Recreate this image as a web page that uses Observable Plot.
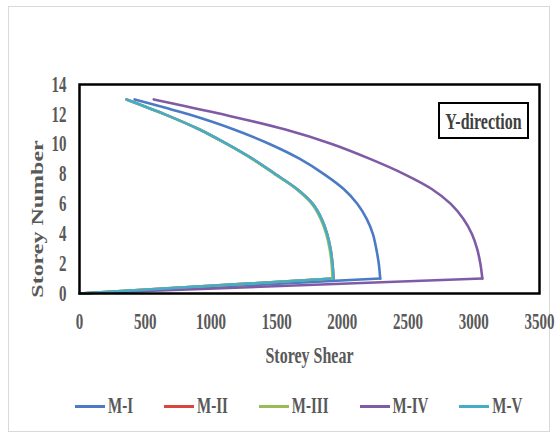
<!DOCTYPE html>
<html>
<head>
<meta charset="utf-8">
<script src="https://cdn.jsdelivr.net/npm/d3@7"></script>
<script src="https://cdn.jsdelivr.net/npm/@observablehq/plot@0.6"></script>
<style>
  html, body { margin: 0; padding: 0; background: #fff; }
  #wrap { position: relative; width: 558px; height: 440px; overflow: hidden; font-family: "Liberation Serif", "Times New Roman", serif; }
  #outer { position: absolute; left: 8px; top: 6px; width: 542px; height: 426px; border: 1px solid #d9d9d9; box-sizing: border-box; }
  #chart { position: absolute; left: 0; top: 0; }
  #dirbox { position: absolute; left: 438px; top: 102px; width: 91px; height: 37px; border: 2px solid #000; box-sizing: border-box; display: flex; align-items: center; justify-content: center; background: #fff; }
  #dirbox span { display: inline-block; font-weight: bold; font-size: 16px; color: #3f3f3f; transform: scaleY(1.5); }
  #legend { position: absolute; left: 75px; top: 396px; height: 20px; display: flex; align-items: center; gap: 31px; }
  .item { display: flex; align-items: center; gap: 3px; }
  .sw { display: inline-block; width: 30px; height: 3px; }
  .lab { display: inline-block; font-weight: bold; font-size: 15px; color: #595959; transform: scaleY(1.5); }
</style>
</head>
<body>
<div id="wrap">
  <div id="outer"></div>
  <div id="chart"></div>
  <div id="dirbox"><span>Y-direction</span></div>
  <div id="legend"></div>
</div>
<script>
// ---- data ----
const storeys = [0, 1, 2, 3, 4, 5, 6, 7, 8, 9, 10, 11, 12, 13];
const seriesNames = ["M-I", "M-II", "M-III", "M-IV", "M-V"];
const seriesColors = ["#4a7bc4", "#d9453f", "#9bbb59", "#7f5ba6", "#45aec6"];
const shearMI   = [0, 2288, 2277, 2258, 2232, 2185, 2115, 2010, 1860, 1680, 1450, 1170, 830, 420];
const shearMII  = [0, 1933, 1925, 1910, 1884, 1842, 1775, 1655, 1490, 1320, 1125, 910, 650, 358];
const shearMIII = [0, 1925, 1918, 1903, 1877, 1835, 1768, 1649, 1485, 1316, 1122, 908, 649, 358];
const shearMIV  = [0, 3065, 3050, 3025, 2985, 2920, 2825, 2680, 2470, 2215, 1925, 1560, 1090, 565];
const shearMV   = [0, 1933, 1925, 1910, 1884, 1842, 1775, 1655, 1490, 1320, 1125, 910, 650, 358];
const xTicks = [0, 500, 1000, 1500, 2000, 2500, 3000, 3500];
const yTicks = [0, 2, 4, 6, 8, 10, 12, 14];
const xTitle = "Storey Shear";
const yTitle = "Storey Number";

const shearBySeries = [shearMI, shearMII, shearMIII, shearMIV, shearMV];
const rows = [];
seriesNames.forEach((name, k) => {
  storeys.forEach((s, i) => rows.push({series: name, storey: s, shear: shearBySeries[k][i]}));
});
const baseRows = rows.filter(d => d.storey <= 1);
const upperRows = rows.filter(d => d.storey >= 1);

const plot = Plot.plot({
  width: 558,
  height: 375,
  marginLeft: 79,
  marginRight: 19,
  marginTop: 84,
  marginBottom: 82,
  style: {fontFamily: "'Liberation Serif', 'Times New Roman', serif", fontSize: "15px", fontWeight: "bold", color: "#595959", background: "transparent"},
  x: {domain: [0, 3500], ticks: xTicks, tickFormat: d => String(d), tickSize: 0, tickPadding: 20, label: null},
  y: {domain: [0, 14], ticks: yTicks, tickFormat: d => String(d), tickSize: 0, tickPadding: 13, label: null},
  color: {domain: seriesNames, range: seriesColors},
  marks: [
    Plot.line(baseRows, {x: "shear", y: "storey", z: "series", stroke: "series", strokeWidth: 2.6, curve: "linear"}),
    Plot.line(upperRows, {x: "shear", y: "storey", z: "series", stroke: "series", strokeWidth: 2.6, curve: "catmull-rom"}),
    Plot.frame({stroke: "#000", strokeWidth: 2.5}),
    Plot.text([xTitle], {frameAnchor: "bottom", textAnchor: "middle", lineAnchor: "middle", dy: 62, fontSize: 16, fill: "#595959"}),
    Plot.text([yTitle], {frameAnchor: "left", textAnchor: "middle", lineAnchor: "middle", rotate: -90, dx: -42, dy: 30, fontSize: 16, fill: "#595959"})
  ]
});

// stretch texts vertically to match the reference's tall glyphs
plot.querySelectorAll("text").forEach(t => {
  let tr = t.getAttribute("transform");
  if (tr == null) {
    const x = parseFloat(t.getAttribute("x")) || 0;
    const y = t.getAttribute("y");
    const yn = y && !/em$/.test(y) ? parseFloat(y) : 0;
    if (!(y && /em$/.test(y))) t.removeAttribute("y");
    t.removeAttribute("x");
    tr = `translate(${x},${yn})`;
  }
  t.setAttribute("transform", tr + (/rotate/.test(tr) ? " scale(1.5,1)" : " scale(1,1.5)"));
});

document.getElementById("chart").appendChild(plot);

const legend = document.getElementById("legend");
seriesNames.forEach((name, k) => {
  const item = document.createElement("div");
  item.className = "item";
  const sw = document.createElement("span");
  sw.className = "sw";
  sw.style.background = seriesColors[k];
  const lab = document.createElement("span");
  lab.className = "lab";
  lab.textContent = name;
  item.appendChild(sw);
  item.appendChild(lab);
  legend.appendChild(item);
});
</script>
</body>
</html>
